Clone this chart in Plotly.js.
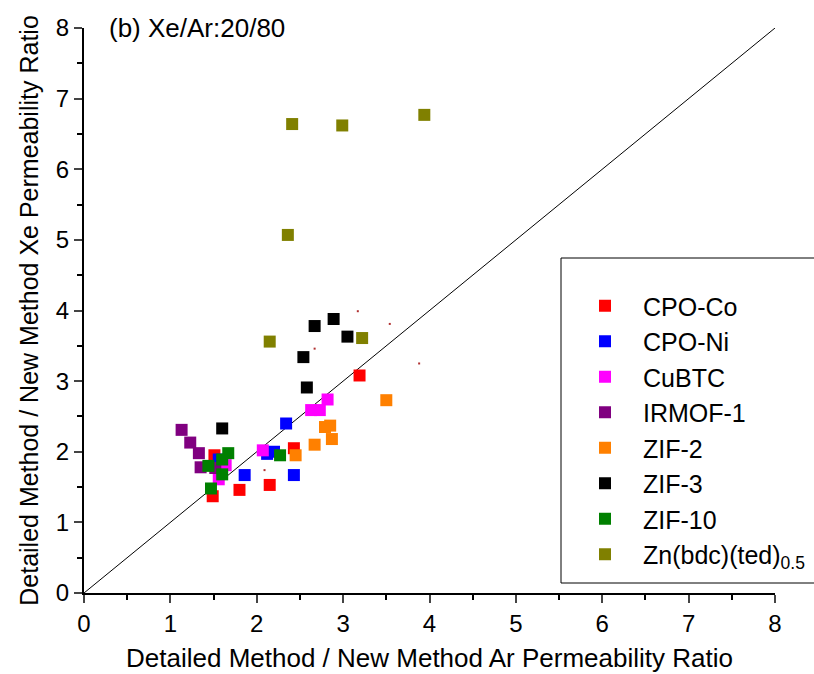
<!DOCTYPE html>
<html>
<head>
<meta charset="utf-8">
<script src="https://cdn.plot.ly/plotly-3.0.1.min.js"></script>
<style>html,body{margin:0;padding:0;background:#fff;}#chart{width:814px;height:674px;}</style>
</head>
<body>
<div id="chart"></div>
<script>
// Series data: x = Ar permeability ratio, y = Xe permeability ratio
const seriesNames = ["CPO-Co", "CPO-Ni", "CuBTC", "IRMOF-1", "ZIF-2", "ZIF-3", "ZIF-10", "Zn(bdc)(ted)<sub>0.5</sub>"];
const seriesColors = ["#ff0000", "#0000ff", "#ff00ff", "#800080", "#ff8000", "#000000", "#008000", "#808000"];

const cpoCoX = [3.19, 2.43, 1.51, 1.80, 2.15, 1.49];
const cpoCoY = [3.08, 2.05, 1.95, 1.46, 1.53, 1.37];

const cpoNiX = [2.34, 2.12, 2.20, 1.86, 2.43, 1.56];
const cpoNiY = [2.40, 1.97, 2.00, 1.67, 1.67, 1.89];

const cubtcX = [2.82, 2.73, 2.63, 2.07, 1.64, 1.56];
const cubtcY = [2.74, 2.59, 2.59, 2.02, 1.81, 1.61];

const irmofX = [1.13, 1.23, 1.33, 1.35, 1.52];
const irmofY = [2.31, 2.13, 1.98, 1.78, 1.77];

const zif2X = [3.50, 2.85, 2.79, 2.67, 2.87, 2.45];
const zif2Y = [2.73, 2.37, 2.35, 2.10, 2.18, 1.95];

const zif3X = [2.67, 2.89, 3.05, 2.54, 2.58, 1.60];
const zif3Y = [3.78, 3.88, 3.63, 3.34, 2.91, 2.33];

const zif10X = [1.67, 1.60, 1.44, 1.60, 1.47, 2.27];
const zif10Y = [1.98, 1.89, 1.80, 1.68, 1.48, 1.95];

const znX = [2.41, 2.99, 3.94, 2.36, 2.15, 3.22];
const znY = [6.64, 6.62, 6.77, 5.07, 3.56, 3.61];

// faint stray specks visible in the original
const speckX = [3.17, 3.54, 2.67, 3.88, 2.09];
const speckY = [3.99, 3.81, 3.46, 3.25, 1.74];

// parity line y = x
const parityX = [0, 8];
const parityY = [0, 8];

const xTickVals = [0, 1, 2, 3, 4, 5, 6, 7, 8];
const yTickVals = [0, 1, 2, 3, 4, 5, 6, 7, 8];

const allX = [cpoCoX, cpoNiX, cubtcX, irmofX, zif2X, zif3X, zif10X, znX];
const allY = [cpoCoY, cpoNiY, cubtcY, irmofY, zif2Y, zif3Y, zif10Y, znY];

const FONT = "Liberation Sans, Arial, sans-serif";

const traces = [];
traces.push({
  x: parityX, y: parityY, mode: "lines", type: "scatter",
  line: {color: "#000", width: 1}, showlegend: false, hoverinfo: "skip"
});
traces.push({
  x: speckX, y: speckY, mode: "markers", type: "scatter",
  marker: {symbol: "square", size: 2, color: "#b03030"}, showlegend: false, hoverinfo: "skip"
});
for (let i = 0; i < seriesNames.length; i++) {
  traces.push({
    x: allX[i], y: allY[i], mode: "markers", type: "scatter",
    name: seriesNames[i],
    marker: {symbol: "square", size: 12, color: seriesColors[i]}
  });
}

const W = 814, H = 674;
const L = 84, R = 39, T = 28, B = 81;
const pw = W - L - R, ph = H - T - B;

const layout = {
  width: W, height: H,
  margin: {l: L, r: R, t: T, b: B, pad: 0, autoexpand: false},
  paper_bgcolor: "#fff", plot_bgcolor: "#fff",
  font: {family: FONT, color: "#000", size: 22},
  showlegend: true,
  legend: {
    x: (567 - L) / pw, xanchor: "left",
    y: (593 - 283) / ph, yanchor: "top",
    bgcolor: "rgba(0,0,0,0)", borderwidth: 0,
    font: {family: FONT, size: 25, color: "#000"},
    traceorder: "normal", itemwidth: 66, itemsizing: "constant"
  },
  xaxis: {
    range: [0, 8], tickvals: xTickVals, ticks: "outside", ticklen: 8, tickwidth: 2,
    showline: true, linewidth: 2, linecolor: "#000", showgrid: false, zeroline: false,
    tickfont: {family: FONT, size: 24}, mirror: false,
    minor: {dtick: 0.5, ticks: "outside", ticklen: 5, tickwidth: 2, tickcolor: "#000", showgrid: false},
    title: {text: "Detailed Method / New Method Ar Permeability Ratio", font: {family: FONT, size: 26}, standoff: 13},
    automargin: false
  },
  yaxis: {
    range: [0, 8], tickvals: yTickVals, ticks: "outside", ticklen: 8, tickwidth: 2,
    showline: true, linewidth: 2, linecolor: "#000", showgrid: false, zeroline: false,
    tickfont: {family: FONT, size: 24},
    minor: {dtick: 0.5, ticks: "outside", ticklen: 5, tickwidth: 2, tickcolor: "#000", showgrid: false},
    title: {text: "Detailed Method / New Method Xe Permeability Ratio", font: {family: FONT, size: 25}, standoff: 10},
    automargin: false
  },
  shapes: [{
    type: "rect", xref: "paper", yref: "paper",
    x0: (561 - L) / pw, x1: (830 - L) / pw,
    y0: (593 - 583) / ph, y1: (593 - 258) / ph,
    line: {color: "#000", width: 1}, fillcolor: "rgba(0,0,0,0)"
  }],
  annotations: [{
    text: "(b) Xe/Ar:20/80", xref: "paper", yref: "paper",
    x: (107 - L) / pw, y: 1, xanchor: "left", yanchor: "middle",
    showarrow: false, font: {family: FONT, size: 26, color: "#000"}
  }]
};

Plotly.newPlot("chart", traces, layout, {displayModeBar: false, staticPlot: true});
</script>
</body>
</html>
